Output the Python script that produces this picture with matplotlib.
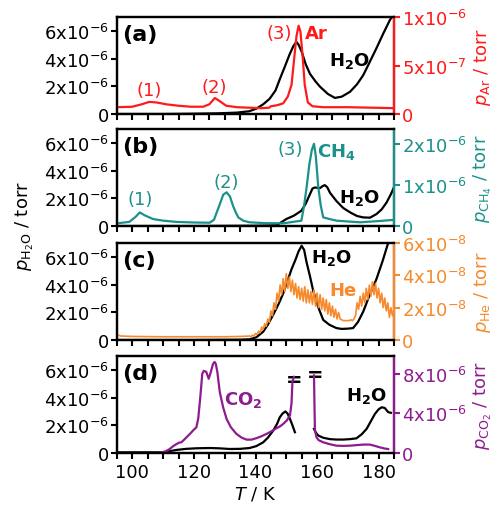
# TPD traces: H2O (left axis) with Ar, CH4, He, CO2 (right axis)

import numpy as np
import matplotlib.pyplot as plt
from matplotlib.ticker import MultipleLocator, FixedLocator, FuncFormatter

plt.rcParams['font.family'] = 'DejaVu Sans'
plt.rcParams['mathtext.fontset'] = 'dejavusans'
plt.rcParams['axes.linewidth'] = 1.6

# ---- data (pressures in torr) ----
# (a) Ar
ar_T = [95, 100, 103, 105.5, 108, 111, 115, 119, 123, 125, 126.8, 128.5, 130.5, 134, 138,
        142, 144.5, 145, 147, 149, 150.5, 151.7, 152.5, 153.3, 154, 154.6, 155.3, 156, 157,
        158.5, 162, 170, 178, 185]
ar_p = [0.07, 0.075, 0.1, 0.125, 0.118, 0.1, 0.085, 0.075, 0.075, 0.1, 0.165, 0.13, 0.085,
        0.07, 0.065, 0.06, 0.065, 0.08, 0.09, 0.11, 0.18, 0.3, 0.55, 0.8, 0.91, 0.85, 0.6,
        0.3, 0.12, 0.08, 0.07, 0.07, 0.065, 0.06]
h2o_a_T = [95, 110, 120, 128, 134, 138, 140.3, 142.5, 144.6, 146.5, 148, 149.5, 151, 152.3,
           153.3, 154, 155, 156.3, 157.7, 159.5, 161, 163.5, 165.8, 168, 170.7, 173, 175,
           177, 179.3, 181.5, 183.7, 185]
h2o_a_p = [0, 0, 0.02, 0.05, 0.1, 0.2, 0.39, 0.7, 1.1, 1.7, 2.57, 3.4, 4.26, 4.9, 5.2, 5.0,
           4.5, 3.6, 2.9, 2.35, 1.96, 1.45, 1.16, 1.25, 1.6, 2.15, 2.8, 3.7, 4.75, 5.8, 6.8, 7.2]

# (b) CH4
ch4_T = [95, 99, 101, 102.4, 104, 106.7, 110, 114.3, 120, 125.1, 126.5, 127.5, 128.4, 129.5,
         130.6, 131.7, 132.7, 133.6, 134.4, 136, 138.1, 143, 149, 154.9, 155.8, 156.6, 157.5,
         158.3, 159, 159.6, 160.4, 161.2, 162, 164, 166.3, 170, 174, 180, 185]
ch4_p = [0.065, 0.1, 0.22, 0.33, 0.26, 0.17, 0.13, 0.1, 0.085, 0.08, 0.15, 0.35, 0.53, 0.76,
         0.82, 0.72, 0.49, 0.33, 0.21, 0.13, 0.09, 0.07, 0.065, 0.13, 0.5, 0.94, 1.5, 1.85,
         2.0, 1.7, 0.94, 0.5, 0.21, 0.17, 0.13, 0.11, 0.09, 0.12, 0.15]
h2o_b_T = [95, 120, 140, 146.8, 150, 152.5, 154.9, 156.3, 157.7, 158.5, 159.3, 160.2, 161,
           161.8, 162.5, 163.3, 164.2, 166.3, 168.5, 171, 173, 175, 177.2, 179.3, 181, 182.6,
           184, 185]
h2o_b_p = [0, 0, 0.02, 0.05, 0.5, 0.75, 1.1, 1.6, 2.3, 2.7, 2.78, 2.75, 2.74, 2.88, 2.95, 2.8,
           2.4, 1.8, 1.3, 0.95, 0.72, 0.62, 0.6, 0.86, 1.2, 1.7, 2.3, 2.8]

# (c) He (noisy trace, 1e-8 torr)
he_T = [95, 96, 100, 110, 120, 130, 135, 137.5] + list(np.arange(138, 185.01, 0.5))
he_p = [0.35, 0.25, 0.22, 0.2, 0.2, 0.2, 0.22, 0.24,
        0.25, 0.2, 0.3, 0.25, 0.4, 0.35, 0.55, 0.45, 0.8, 0.65,
        1.0, 0.85, 1.3, 1.1, 1.8, 1.5, 2.3, 1.9, 2.9, 2.4,
        3.4, 2.8, 3.8, 3.0, 4.1, 3.2, 3.9, 3.0, 3.7, 2.8,
        3.5, 2.6, 3.3, 2.5, 3.2, 2.4, 3.3, 2.3, 3.1, 2.3,
        3.0, 2.2, 3.1, 2.1, 2.9, 2.0, 2.8, 1.9, 2.6, 1.8,
        2.5, 1.6, 2.3, 1.5, 2.1, 1.4, 1.9, 1.3, 1.7, 1.3,
        1.25, 1.2, 1.2, 1.2, 1.2, 1.2, 1.25, 1.2, 1.3, 1.5,
        2.3, 1.9, 2.7, 2.1, 2.9, 2.3, 3.2, 2.5, 3.4, 2.7,
        3.6, 2.8, 3.5, 2.6, 3.2, 2.3, 2.9, 2.0, 2.6, 1.8,
        2.3, 1.4, 2.0, 1.5, 1.9]
h2o_c_T = [95, 120, 135, 138.1, 140.3, 142.5, 144, 145.7, 147.5, 149, 150.3, 151.7, 153, 154,
           155, 155.8, 156.6, 157.7, 158.8, 160.5, 162, 164, 166.3, 168, 170, 171.7, 173.3,
           175, 177, 179.3, 181.3, 183.1, 184]
h2o_c_p = [0, 0, 0.02, 0.05, 0.2, 0.6, 1.1, 1.8, 2.6, 3.36, 4.2, 5.1, 5.8, 6.4, 6.8, 6.5, 5.6,
           4.6, 3.5, 2.3, 1.45, 1.1, 0.86, 0.8, 0.82, 0.86, 1.3, 2.05, 3.2, 4.4, 5.7, 7.0, 7.6]

# (d) CO2, two segments around the break
co2_T1 = [95, 108, 109.5, 111, 112.1, 113.3, 114.3, 115.2, 115.9, 117, 118.6, 119.8, 120.8,
          121.4, 121.9, 122.3, 122.7, 123.2, 124.0, 124.8, 125.5, 126.2, 126.7, 127.1, 127.6,
          128.4, 129.5, 130.6, 132, 133.8, 135.5, 137.1, 138.7, 140.3, 142, 143.6, 145.2,
          146.8, 148, 149, 150.2, 151.2, 151.7, 152, 152.5]
co2_p1 = [0, 0, 0.05, 0.2, 0.4, 0.7, 0.9, 1.05, 1.08, 1.4, 1.9, 2.3, 2.6, 3.5, 5.1, 6.5, 8.0,
          8.3, 8.2, 7.5, 8.2, 9.0, 9.2, 9.0, 8.2, 6.15, 4.6, 3.45, 2.6, 1.93, 1.55, 1.35,
          1.35, 1.5, 1.7, 1.93, 2.2, 2.5, 2.7, 2.94, 3.3, 3.8, 5.0, 7.2, 7.7]
co2_T2 = [159, 159.3, 159.8, 160.5, 162, 164, 166.3, 168.5, 170.7, 173, 175, 177.2, 179,
          180.4, 182, 183.1]
co2_p2 = [7.84, 2.4, 1.6, 1.3, 1.08, 0.9, 0.74, 0.72, 0.74, 0.8, 0.85, 0.85, 0.7, 0.57, 0.45,
          0.4]
h2o_d_T1 = [95, 110, 114.3, 117.5, 120.8, 125.1, 128, 131.6, 135, 138.1, 140.3, 142.5, 144,
            145.7, 147, 147.9, 148.8, 149.7, 150.4, 151.2, 152, 152.8]
h2o_d_p1 = [0.05, 0.05, 0.22, 0.3, 0.34, 0.36, 0.34, 0.29, 0.3, 0.36, 0.5, 0.77, 1.1, 1.6,
            2.1, 2.58, 2.85, 3.0, 2.85, 2.46, 2.0, 1.5]
h2o_d_T2 = [159, 159.5, 160.4, 162, 164.2, 166.3, 168.5, 170.7, 172.8, 174.5, 176.1, 177.5,
            178.8, 180, 181, 182, 183.1, 184]
h2o_d_p2 = [1.74, 1.5, 1.26, 1.1, 1.0, 0.97, 0.97, 1.0, 1.06, 1.35, 1.74, 2.3, 2.82, 3.15,
            3.3, 3.25, 2.95, 2.9]

RED = '#ff1a1a'
TEAL = '#1b918b'
ORANGE = '#f68a2c'
PURPLE = '#8e1c8e'
FS = 13


def sci(v, pos):
    if v == 0:
        return '0'
    e = int(np.floor(np.log10(v) + 1e-9))
    return f'{v / 10**e:.0f}x10$^{{{e}}}$'


fig = plt.figure(figsize=(4.98, 5.06), dpi=100)
left, width, height = 117 / 498, 277 / 498, 97 / 506
bottoms = [1 - 115 / 506, 1 - 227 / 506, 1 - 341 / 506, 1 - 454 / 506]

panels = [
    dict(tag='(a)', color=RED, name='Ar', top=1.0e-6, ticks=[0, 5e-7, 1e-6]),
    dict(tag='(b)', color=TEAL, name='CH_4', top=2.36e-6, ticks=[0, 1e-6, 2e-6]),
    dict(tag='(c)', color=ORANGE, name='He', top=6e-8, ticks=[0, 2e-8, 4e-8, 6e-8]),
    dict(tag='(d)', color=PURPLE, name='CO_2', top=9.8e-6, ticks=[0, 4e-6, 8e-6]),
]

axes = []
for i, p in enumerate(panels):
    ax = fig.add_axes([left, bottoms[i], width, height])
    tw = ax.twinx()
    ax.set_xlim(95, 185)
    ax.set_ylim(0, 7e-6)
    tw.set_ylim(0, p['top'])
    ax.yaxis.set_major_locator(FixedLocator([0, 2e-6, 4e-6, 6e-6]))
    ax.yaxis.set_major_formatter(FuncFormatter(sci))
    tw.yaxis.set_major_locator(FixedLocator(p['ticks']))
    tw.yaxis.set_major_formatter(FuncFormatter(sci))
    ax.xaxis.set_major_locator(MultipleLocator(20))
    ax.xaxis.set_minor_locator(MultipleLocator(5))
    ax.tick_params(axis='both', which='both', direction='out', length=4, width=1.5,
                   labelsize=FS, pad=2)
    ax.tick_params(axis='x', which='major', pad=3)
    tw.tick_params(axis='y', direction='out', length=4, width=1.5, labelsize=FS,
                   colors=p['color'], pad=2)
    tw.spines['right'].set_color(p['color'])
    tw.spines['right'].set_linewidth(1.6)
    if i < 3:
        ax.tick_params(axis='x', labelbottom=False)
    tw.set_ylabel(r'$\mathit{p}_{\mathrm{%s}}$ / torr' % p['name'], color=p['color'],
                  fontsize=FS, rotation=90)
    tw.yaxis.set_label_coords(1.28, 0.5)
    ax.text(0.02, 0.82, p['tag'], transform=ax.transAxes, fontsize=16,
            fontweight='bold', va='center', ha='left')
    axes.append((ax, tw))

lw = 1.6
u6, u8 = 1e-6, 1e-8

# (a)
ax, tw = axes[0]
ax.plot(h2o_a_T, np.array(h2o_a_p) * u6, color='k', lw=lw)
tw.plot(ar_T, np.array(ar_p) * u6, color=RED, lw=lw)
kw = dict(transform=ax.transAxes, ha='center', va='center', fontsize=FS)
ax.text(0.118, 0.245, '(1)', color=RED, **kw)
ax.text(0.35, 0.28, '(2)', color=RED, **kw)
ax.text(0.585, 0.834, '(3)', color=RED, **kw)
ax.text(0.72, 0.834, 'Ar', color=RED, fontweight='bold', **kw)
ax.text(0.84, 0.557, r'H$_\mathbf{2}$O', color='k', fontweight='bold', **kw)

# (b)
ax, tw = axes[1]
ax.plot(h2o_b_T, np.array(h2o_b_p) * u6, color='k', lw=lw)
tw.plot(ch4_T, np.array(ch4_p) * u6, color=TEAL, lw=lw)
kw = dict(transform=ax.transAxes, ha='center', va='center', fontsize=FS)
ax.text(0.082, 0.277, '(1)', color=TEAL, **kw)
ax.text(0.395, 0.45, '(2)', color=TEAL, **kw)
ax.text(0.625, 0.79, '(3)', color=TEAL, **kw)
ax.text(0.79, 0.77, r'CH$_\mathbf{4}$', color=TEAL, fontweight='bold', **kw)
ax.text(0.875, 0.295, r'H$_\mathbf{2}$O', color='k', fontweight='bold', **kw)

# (c)
ax, tw = axes[2]
ax.plot(h2o_c_T, np.array(h2o_c_p) * u6, color='k', lw=lw)
tw.plot(he_T, np.array(he_p) * u8, color=ORANGE, lw=1.2)
kw = dict(transform=ax.transAxes, ha='center', va='center', fontsize=FS)
ax.text(0.775, 0.854, r'H$_\mathbf{2}$O', color='k', fontweight='bold', **kw)
ax.text(0.817, 0.514, 'He', color=ORANGE, fontweight='bold', **kw)

# (d)
ax, tw = axes[3]
ax.plot(h2o_d_T1, np.array(h2o_d_p1) * u6, color='k', lw=lw)
ax.plot(h2o_d_T2, np.array(h2o_d_p2) * u6, color='k', lw=lw)
tw.plot(co2_T1, np.array(co2_p1) * u6, color=PURPLE, lw=lw)
tw.plot(co2_T2, np.array(co2_p2) * u6, color=PURPLE, lw=lw)
kw = dict(transform=ax.transAxes, ha='center', va='center', fontsize=FS)
ax.text(0.455, 0.56, r'CO$_\mathbf{2}$', color=PURPLE, fontweight='bold', **kw)
ax.text(0.90, 0.593, r'H$_\mathbf{2}$O', color='k', fontweight='bold', **kw)
ax.text(152.4, 5.3e-6, '=', ha='center', va='center', fontsize=14, fontweight='bold')
ax.text(159.3, 5.67e-6, '=', ha='center', va='center', fontsize=14, fontweight='bold')

fig.text(0.05, 0.553, r'$\mathit{p}_{\mathrm{H_2O}}$ / torr', rotation=90,
         ha='center', va='center', fontsize=FS)
fig.text(0.513, 0.022, r'$\mathit{T}$ / K', ha='center', va='center', fontsize=FS)

fig.savefig('out.png', dpi=100)
